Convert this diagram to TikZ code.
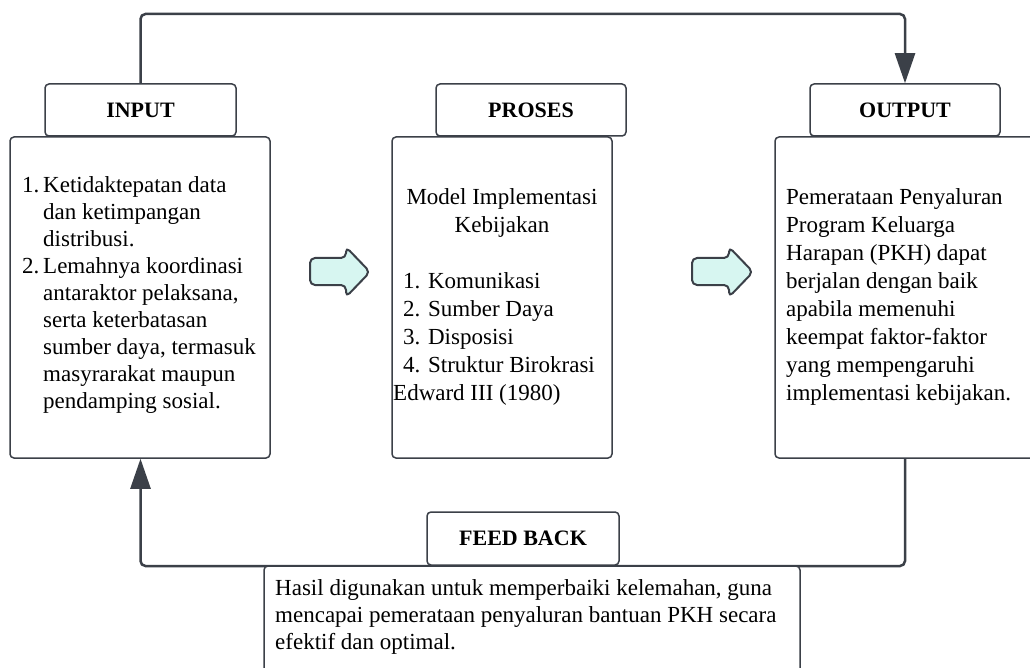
\documentclass[tikz,border=0pt]{standalone}
\usepackage{fontspec}
\setmainfont{Liberation Serif}
\usetikzlibrary{arrows.meta}
\definecolor{lc}{HTML}{3B4048}
\definecolor{ac}{HTML}{D7F6F1}
\tikzset{
  box/.style={draw=lc, line width=1.5pt, rounded corners=4pt, fill=white, inner sep=0pt},
  lbl/.style={font=\fontsize{22}{26}\selectfont\bfseries},
  txtA/.style={font=\fontsize{23}{27}\selectfont, inner sep=0pt, align=left, anchor=north west},
  txtB/.style={font=\fontsize{23}{28}\selectfont, inner sep=0pt, align=left, anchor=north west},
  conn/.style={draw=lc, line width=2.5pt, rounded corners=5pt},
  barrow/.style={draw=lc, fill=ac, line width=2pt, rounded corners=5pt, line join=round}
}
\begin{document}
\begin{tikzpicture}[x=1pt,y=-1pt]
\useasboundingbox (0,0) rectangle (1030,668);
\clip (0,0) rectangle (1030,668);
\fill[white] (0,0) rectangle (1030,668);
\coordinate (top) at (0,14);
\coordinate (bot) at (0,566);

% boxes
\node[box, minimum width=191pt, minimum height=52pt, lbl] (intab) at (140.5,110) {INPUT};
\node[box, minimum width=260pt, minimum height=321pt] (inbody) at (140,297.5) {};
\node[box, minimum width=190pt, minimum height=52pt, lbl] (prtab) at (531,110) {PROSES};
\node[box, minimum width=220pt, minimum height=321pt] (prbody) at (502,297.5) {};
\node[box, minimum width=190pt, minimum height=52pt, lbl] (outtab) at (905,110) {OUTPUT};
\node[box, minimum width=280pt, minimum height=321pt] (outbody) at (915,297.5) {};

% connectors
\draw[conn, -{Triangle[width=20pt,length=30pt]}] (intab.north) -- (intab.north |- top) -- (outtab.north |- top) -- (outtab.north);
\draw[conn, -{Triangle[width=20pt,length=30pt]}] (outtab.south |- outbody.south) -- (outtab.south |- bot) -- (intab.south |- bot) -- (intab.south |- inbody.south);

\node[box, minimum width=192pt, minimum height=53pt, lbl] (fbtab) at (523,538.5) {FEED BACK};
\node[box, minimum width=536pt, minimum height=134pt] (fbbody) at (532,633) {};

% block arrows
\draw[barrow] (310,258) -- (346,258) -- (346,247) -- (370,272) -- (346,297) -- (346,285) -- (310,285) -- cycle;
\draw[barrow] (692,258) -- (729,258) -- (729,247) -- (753,272) -- (729,297) -- (729,285) -- (692,285) -- cycle;

% texts
\node[txtA] (intext) at (22,176) {\makebox[21pt][l]{1.}Ketidaktepatan data\\
\hspace*{21pt}dan ketimpangan\\
\hspace*{21pt}distribusi.\\
\makebox[21pt][l]{2.}Lemahnya koordinasi\\
\hspace*{21pt}antaraktor pelaksana,\\
\hspace*{21pt}serta keterbatasan\\
\hspace*{21pt}sumber daya, termasuk\\
\hspace*{21pt}masyrarakat maupun\\
\hspace*{21pt}pendamping sosial.};

\node[txtB, align=center, anchor=north] (prtitle) at (502,188) {Model Implementasi\\Kebijakan};
\node[txtB] (prlist) at (393,272) {\hspace*{10pt}1. Komunikasi\\
\hspace*{10pt}2. Sumber Daya\\
\hspace*{10pt}3. Disposisi\\
\hspace*{10pt}4. Struktur Birokrasi\\
Edward III (1980)};

\node[txtB] (outtext) at (786,188) {Pemerataan Penyaluran\\
Program Keluarga\\
Harapan (PKH) dapat\\
berjalan dengan baik\\
apabila memenuhi\\
keempat faktor-faktor\\
yang mempengaruhi\\
implementasi kebijakan.};

\node[txtA] (fbtext) at (275,579) {Hasil digunakan untuk memperbaiki kelemahan, guna\\
mencapai pemerataan penyaluran bantuan PKH secara\\
efektif dan optimal.};
\end{tikzpicture}
\end{document}
